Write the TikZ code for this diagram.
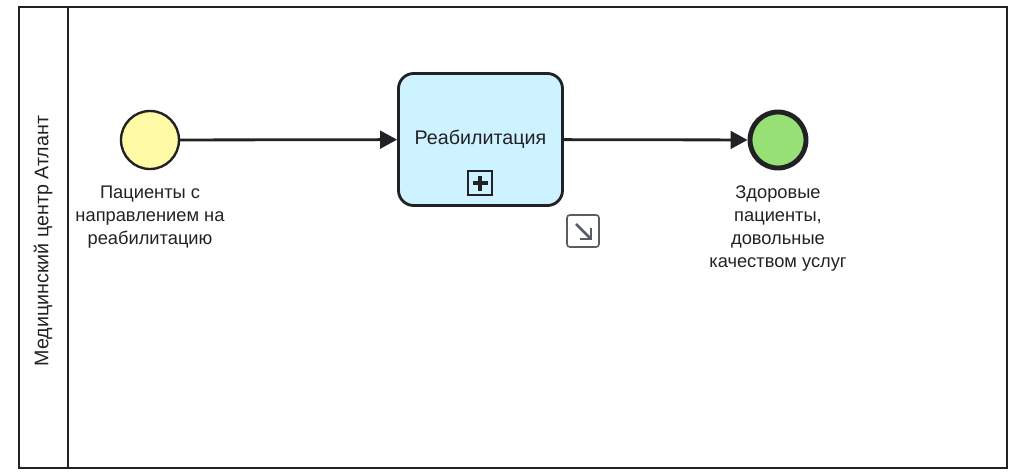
\documentclass[tikz,border=0pt]{standalone}
\usepackage{fontspec}
\setmainfont{Liberation Sans}
\usepackage{xcolor}
\usetikzlibrary{positioning,calc,arrows.meta}

\definecolor{strokedark}{RGB}{34,34,38}
\definecolor{startfill}{RGB}{255,250,165}
\definecolor{endfill}{RGB}{150,224,118}
\definecolor{taskfill}{RGB}{204,243,255}
\definecolor{icongray}{RGB}{90,92,100}

\tikzset{
  lbl/.style={align=center, font=\fontsize{13}{16.2}\selectfont, text=strokedark},
  flow/.style={draw=strokedark, line width=2pt, -{Triangle[length=12pt,width=12.5pt]}},
  startev/.style={circle, draw=strokedark, line width=1.7pt, fill=startfill, minimum size=1.45cm, inner sep=0pt},
  endev/.style={circle, draw=strokedark, line width=3.5pt, fill=endfill, minimum size=1.4cm, inner sep=0pt},
  taskbox/.style={draw=strokedark, line width=2pt, fill=taskfill, rounded corners=0.38cm, minimum width=4.1cm, minimum height=3.3cm, inner sep=0pt}
}

\begin{document}
\begin{tikzpicture}[x=0.025cm, y=-0.025cm]
  \useasboundingbox (0,0) rectangle (1014,474);

  % Pool and lane
  \draw[strokedark, line width=1.6pt] (19,7) rectangle (1007,468);
  \draw[strokedark, line width=1.6pt] (68,7) -- (68,468);
  \node[lbl, font=\fontsize{14}{16.2}\selectfont, rotate=90] (lane) at (43,241) {Медицинский центр Атлант};

  % Events and task
  \node[startev] (start) at (150,140) {};
  \node[lbl, below=0.27cm of start] (startlbl) {Пациенты с\\направлением на\\реабилитацию};

  \node[taskbox] (rehab) at (480.5,139.5) {};
  \node[lbl, font=\fontsize{14}{16.2}\selectfont] (rehablbl) at (480.5,139) {Реабилитация};

  \node[endev] (finish) at (778,140) {};
  \node[lbl, below=0.27cm of finish] (finishlbl) {Здоровые\\пациенты,\\довольные\\качеством услуг};

  % Sub-process marker
  \node[draw=strokedark, line width=1.2pt, minimum size=0.6cm, inner sep=0pt] (plus) at (480,183) {};
  \draw[strokedark, line width=2.2pt] ($(plus.center)+(-7.5,0)$) -- ($(plus.center)+(7.5,0)$);
  \draw[strokedark, line width=2.2pt] ($(plus.center)+(0,-7.5)$) -- ($(plus.center)+(0,7.5)$);

  % Attached icon
  \node[draw=icongray, line width=1.1pt, rounded corners=2pt, minimum size=0.8cm, inner sep=0pt] (icon) at (583,231) {};
  \draw[icongray, line width=1.9pt] ($(icon.center)+(-7,-7)$) -- ($(icon.center)+(7,7)$);
  \draw[icongray, line width=1.9pt] ($(icon.center)+(-3,8)$) -- ($(icon.center)+(8,8)$) -- ($(icon.center)+(8,-3)$);

  % Sequence flows
  \draw[flow] (start) -- (rehab);
  \draw[flow] (rehab) -- (finish);
\end{tikzpicture}
\end{document}
